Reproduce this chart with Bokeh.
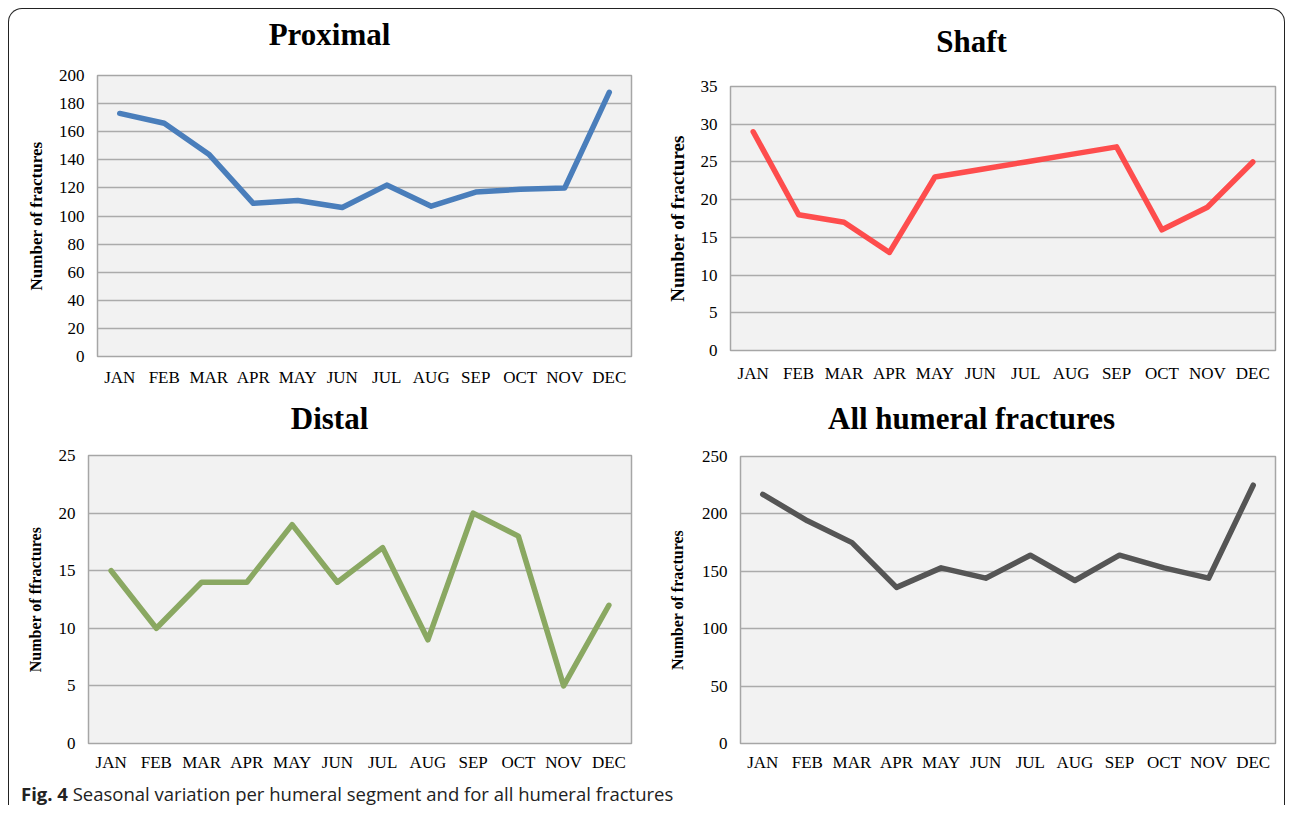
from bokeh.plotting import figure
from bokeh.models import FactorRange, Range1d, FixedTicker, Div
from bokeh.layouts import row, column
from bokeh.embed import file_html
from bokeh.resources import INLINE

months = ["JAN", "FEB", "MAR", "APR", "MAY", "JUN", "JUL", "AUG", "SEP", "OCT", "NOV", "DEC"]
proximal = [173, 166, 144, 109, 111, 106, 122, 107, 117, 119, 120, 188]
shaft = [29, 18, 17, 13, 23, 24, 25, 26, 27, 16, 19, 25]
distal = [15, 10, 14, 14, 19, 14, 17, 9, 20, 18, 5, 12]
all_humeral = [217, 194, 175, 136, 153, 144, 164, 142, 164, 153, 144, 225]

prox_ticks = list(range(0, 201, 20))
shaft_ticks = list(range(0, 36, 5))
distal_ticks = list(range(0, 26, 5))
all_ticks = list(range(0, 251, 50))

SERIF = "Liberation Serif"


def make(title, values, color, ymax, ticks, ylabel, fw, fh, left, right, top, bottom,
         title_h, title_pad, label_size, label_standoff, x_standoff, alpha=1.0):
    p = figure(x_range=FactorRange(*months, range_padding=0), y_range=Range1d(0, ymax),
               frame_width=fw, frame_height=fh,
               min_border_left=left, min_border_right=right,
               min_border_top=top, min_border_bottom=bottom,
               output_backend="svg", toolbar_location=None)
    p.background_fill_color = "#f2f2f2"
    p.border_fill_color = "white"
    p.outline_line_color = "#a6a6a6"
    p.outline_line_width = 1.5
    p.xgrid.grid_line_color = None
    p.ygrid.grid_line_color = "#ababab"
    p.ygrid.grid_line_width = 1.5
    p.yaxis.ticker = FixedTicker(ticks=ticks)
    for ax in (p.xaxis[0], p.yaxis[0]):
        ax.axis_line_color = None
        ax.major_tick_line_color = None
        ax.minor_tick_line_color = None
        ax.major_tick_out = 0
        ax.major_tick_in = 0
        ax.minor_tick_out = 0
        ax.minor_tick_in = 0
        ax.major_label_text_font = SERIF
        ax.major_label_text_font_size = "17px"
        ax.major_label_text_color = "black"
    p.xaxis.major_label_standoff = x_standoff
    p.yaxis.major_label_standoff = 13
    p.yaxis.axis_label = ylabel
    p.yaxis.axis_label_text_font = SERIF
    p.yaxis.axis_label_text_font_size = label_size
    p.yaxis.axis_label_text_font_style = "bold"
    p.yaxis.axis_label_text_color = "black"
    p.yaxis.axis_label_standoff = label_standoff
    p.line(months, values, line_color=color, line_width=5.5, line_alpha=alpha,
           line_join="round", line_cap="round")
    width = left + fw + right
    head = Div(text=title, width=width, height=title_h, margin=0,
               styles={"font-family": SERIF, "font-size": "31px", "font-weight": "bold",
                       "color": "black", "text-align": "center",
                       "line-height": f"{title_h}px", "padding-left": f"{title_pad}px",
                       "box-sizing": "border-box"})
    return column(head, p, spacing=0)


p1 = make("Proximal", proximal, "#4a7ebb", 200, prox_ticks, "Number of fractures",
          534, 281, 88, 19, 14, 44, 52, 0, "17px", 10, 11)
p2 = make("Shaft", shaft, "#ff3b3b", 35, shaft_ticks, "Number of fractures",
          545, 264, 80, 9, 12, 50, 65, 9, "19px", 10, 13, alpha=0.9)
p3 = make("Distal", distal, "#8aa862", 25, distal_ticks, "Number of ffractures",
          543, 288, 79, 19, 18, 32, 37, 0, "16px", 12, 9)
p4 = make("All humeral fractures", all_humeral, "#555555", 250, all_ticks, "Number of fractures",
          535, 287, 90, 9, 18, 32, 38, 9, "16px", 13, 9)

caption = Div(text='<b>Fig. 4</b> Seasonal variation per humeral segment and for all humeral fractures',
              width=1270, height=30, margin=0,
              styles={"font-family": "Open Sans", "font-size": "18.5px", "color": "#222",
                      "padding-left": "12px", "padding-top": "7px", "line-height": "24px",
                      "box-sizing": "border-box"})

layout = column(row(p1, p2, spacing=0), row(p3, p4, spacing=0), caption, spacing=0,
                styles={"border": "1.5px solid #222", "border-bottom": "none",
                        "border-radius": "14px 14px 0 0", "background": "white",
                        "overflow": "hidden", "margin": "8px 0 0 8px"})

open("out.html", "w").write(file_html(layout, INLINE))
